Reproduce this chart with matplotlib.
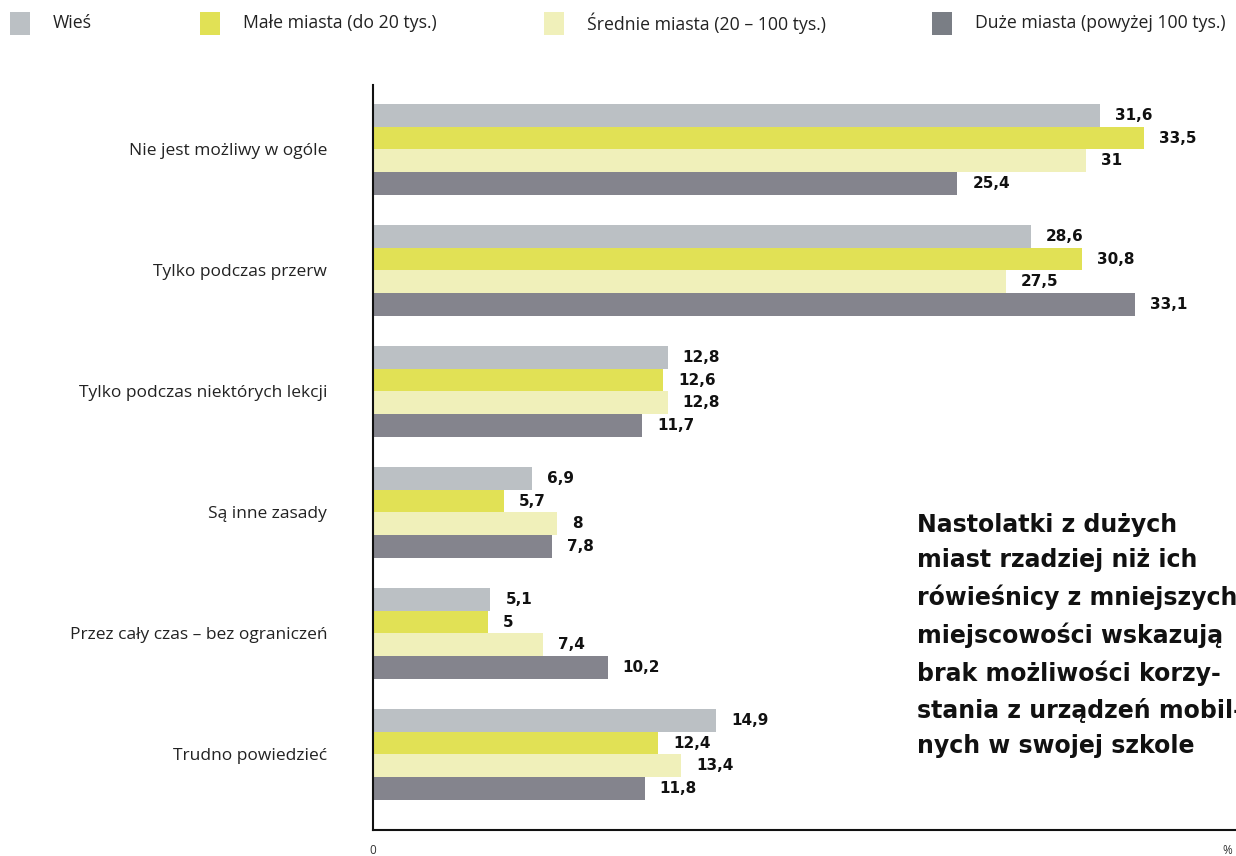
import matplotlib
matplotlib.use("Agg")
import matplotlib.pyplot as plt
import numpy as np

categories = ["Nie jest możliwy w ogóle", "Tylko podczas przerw", "Tylko podczas niektórych lekcji",
              "Są inne zasady", "Przez cały czas – bez ograniczeń", "Trudno powiedzieć"]
series_names = ["Wieś", "Małe miasta (do 20 tys.)", "Średnie miasta (20 – 100 tys.)", "Duże miasta (powyżej 100 tys.)"]
wies = [31.6, 28.6, 12.8, 6.9, 5.1, 14.9]
male = [33.5, 30.8, 12.6, 5.7, 5.0, 12.4]
srednie = [31.0, 27.5, 12.8, 8.0, 7.4, 13.4]
duze = [25.4, 33.1, 11.7, 7.8, 10.2, 11.8]
colors = ["#BBC0C4", "#E1E155", "#F0F0BA", "#84848D"]
legend_colors = ["#BBC0C4", "#E1E155", "#F0F0BA", "#7A7E85"]

plt.rcParams['font.family'] = ['Open Sans', 'DejaVu Sans']

fig = plt.figure(figsize=(12.36, 8.56), dpi=100)
ax = fig.add_axes([373/1236, 1-830/856, 1-373/1236, (830-85)/856])

bh = 22.7/121
allv = [wies, male, srednie, duze]
for j, vals in enumerate(allv):
    y = np.arange(len(categories)) + (j-1.5)*bh
    ax.barh(y, vals, height=bh, color=colors[j], linewidth=0)
    for yy, v in zip(y, vals):
        s = f"{v:g}".replace(".", ",")
        ax.annotate(s, (v, yy), xytext=(15, 0), textcoords="offset pixels",
                    va="center", ha="left", fontsize=11, fontweight="bold", color="#111111",
                    family=["DejaVu Sans"])

ax.set_xlim(0, (1236-373)/23.01)
ax.set_ylim((830-149.5)/121, (85-149.5)/121)
ax.set_yticks(np.arange(len(categories)))
ax.set_yticklabels(categories, fontsize=12.5, color="#222222")
ax.tick_params(axis='y', length=0, pad=33)
ax.set_xticks([])
for s in ["top", "right"]:
    ax.spines[s].set_visible(False)
for s in ["left", "bottom"]:
    ax.spines[s].set_linewidth(1.5)
    ax.spines[s].set_color("#111111")

fig.text(373/1236, 1-851/856, "0", ha="center", va="center", fontsize=8.5, color="#333333")
fig.text(1227/1236, 1-851/856, "%", ha="center", va="center", fontsize=8.5, color="#333333")

# legend
leg_x = [10, 200, 544, 932]
for x, name, c in zip(leg_x, series_names, legend_colors):
    fig.patches.append(plt.Rectangle((x/1236, 1-35/856), 20/1236, 23/856, transform=fig.transFigure,
                                     color=c, linewidth=0))
    fig.text((x+43)/1236, 1-23/856, name, ha="left", va="center", fontsize=12.7, color="#222222")

note = ("Nastolatki z dużych\nmiast rzadziej niż ich\nrówieśnicy z mniejszych\n"
        "miejscowości wskazują\nbrak możliwości korzy-\nstania z urządzeń mobil-\nnych w swojej szkole")
fig.text(917/1236, 1-513/856, note, ha="left", va="top", fontsize=17, fontweight="bold",
         color="#111111", linespacing=1.6, family=["DejaVu Sans"])

fig.savefig("out.png", dpi=100)
